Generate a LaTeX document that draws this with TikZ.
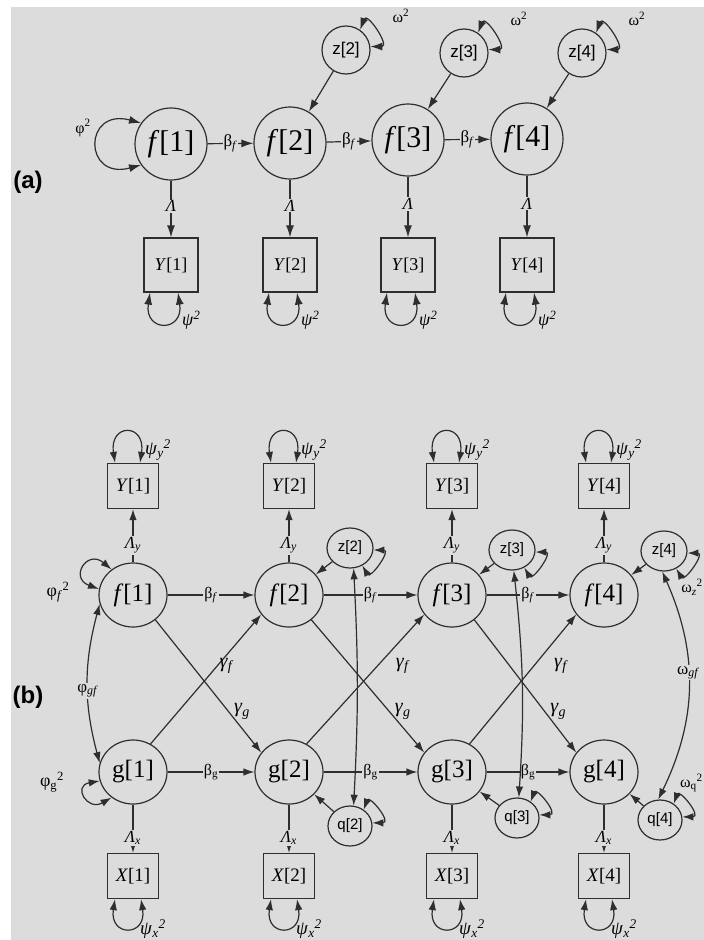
\documentclass[tikz,border=0pt]{standalone}
\usepackage{fontspec}
\setmainfont{Liberation Serif}
\newfontfamily\sansf{Liberation Sans}
\usepackage{xcolor}
\usepackage{tikz}
\usetikzlibrary{positioning}
\usetikzlibrary{arrows.meta,shapes.geometric}
\usetikzlibrary{calc}
\definecolor{bg}{HTML}{DCDCDC}
\definecolor{ln}{HTML}{2E2E2E}
\newcommand{\fsz}[1]{\fontsize{#1}{#1}\selectfont}
\tikzset{lat/.style={circle,draw=ln,line width=1.2pt,inner sep=0pt},
  latb/.style={ellipse,draw=ln,line width=1.2pt,inner sep=0pt,minimum width=68pt,minimum height=64pt,font=\fsz{25}},
  obs/.style={rectangle,draw=ln,line width=1.2pt,inner sep=0pt},
  res/.style={ellipse,draw=ln,line width=1.2pt,inner sep=0pt,minimum width=46pt,minimum height=40pt,font=\sansf\fsz{15}},
  lbl/.style={fill=bg,inner sep=1pt,font=\fsz{16}},
  txt/.style={inner sep=0pt,font=\fsz{15}},
  ar/.style={draw=ln,line width=1.2pt,-{Latex[length=11pt,width=7.5pt]}},
  dar/.style={draw=ln,line width=1.2pt,{Latex[length=11pt,width=7.5pt]}-{Latex[length=11pt,width=7.5pt]}},
  ara/.style={draw=ln,line width=1.2pt,-{Latex[length=12pt,width=8pt]}},
  dara/.style={draw=ln,line width=1.2pt,{Latex[length=12pt,width=8pt]}-{Latex[length=12pt,width=8pt]}}}

\begin{document}
\begin{tikzpicture}[x=1pt,y=1pt]
  \useasboundingbox (0,0) rectangle (704,-940);
  \clip (0,0) rectangle (704,-940);
  \fill[white] (0,0) rectangle (704,-940);
  \fill[bg] (11,-7) rectangle (704,-940);

  % panel (a)
  \node[font=\sansf\bfseries\fsz{24}] (pa) at (28,-182) {(a)};
  \foreach \i/\x/\y in {1/171/144,2/290/143,3/408/140,4/527/139} {
    \node[lat,minimum size=72pt,font=\fsz{30}] (af\i) at (\x,-\y) {\textit{f}[\i]};
    \node[obs,minimum size=54pt,font=\fsz{18}] (aY\i) at (\x,-265) {\textit{Y}[\i]};
    \draw[ara] (af\i) -- node[lbl,pos=0.45,font=\fsz{17}]{\textit{Λ}} (aY\i);
    \draw[dara] ([xshift=-21pt]aY\i.south) .. controls +(-6,-40) and +(6,-40) .. ([xshift=7pt]aY\i.south);
    \node[txt,anchor=west,font=\fsz{18}] (apsi\i) at ($(aY\i.south)+(11,-28)$) {\textit{ψ}\textsuperscript{\textit{2}}};
  }
  \foreach \i/\x/\y in {2/346/50,3/464/53,4/582/53} {
    \node[lat,minimum size=48pt,font=\sansf\fsz{17}] (az\i) at (\x,-\y) {z[\i]};
    \draw[ara] (az\i) -- (af\i);
    \draw[dara] (az\i.55) .. controls +(70:20) and +(0:20) .. (az\i.8);
    \node[txt,font=\fsz{16}] (aom\i) at ($(az\i)+(55,34)$) {ω\textsuperscript{2}};
  }
  \foreach \i/\j in {1/2,2/3,3/4}
    \draw[ara] (af\i) -- node[lbl,font=\fsz{17}]{β\textsubscript{\textit{f}}} (af\j);
  \draw[dara] (af1.145) .. controls +(165:60) and +(195:60) .. (af1.215);
  \node[txt,font=\fsz{16}] (aphi) at (83,-128) {φ\textsuperscript{2}};

  % panel (b)
  \node[font=\sansf\bfseries\fsz{24}] (pb) at (28,-697) {(b)};
  \foreach \i/\x in {1/133,2/289,3/452,4/604} {
    \node[latb] (f\i) at (\x,-595) {\textit{f}[\i]};
    \node[latb] (g\i) at (\x,-772) {g[\i]};
    \node[obs,minimum width=51pt,minimum height=45pt,font=\fsz{19}] (Y\i) at (\x,-486) {\textit{Y}[\i]};
    \node[obs,minimum width=51pt,minimum height=45pt,font=\fsz{19}] (X\i) at (\x,-876) {\textit{X}[\i]};
    \draw[ar] (f\i) -- node[lbl,pos=0.32,font=\fsz{17}]{\textit{Λ}\textsubscript{\textit{y}}} (Y\i);
    \draw[ar] (g\i) -- node[lbl,pos=0.69,font=\fsz{17}]{\textit{Λ}\textsubscript{\textit{x}}} (X\i);
    \draw[dar] ([xshift=-18pt]Y\i.north) .. controls +(-6,40) and +(6,40) .. ([xshift=7pt]Y\i.north);
    \draw[dar] ([xshift=-18pt]X\i.south) .. controls +(-6,-38) and +(6,-38) .. ([xshift=8pt]X\i.south);
    \node[txt,anchor=west,font=\fsz{19}] (psy\i) at ($(Y\i.north)+(12,13)$) {\textit{ψ}\textsubscript{\textit{y}}\textsuperscript{\textit{2}}};
    \node[txt,anchor=west,font=\fsz{19}] (psx\i) at ($(X\i.south)+(7,-30)$) {\textit{ψ}\textsubscript{\textit{x}}\textsuperscript{\textit{2}}};
  }
  \foreach \i/\j in {1/2,2/3,3/4} {
    \draw[ar] (f\i) -- node[lbl]{β\textsubscript{\textit{f}}} (f\j);
    \draw[ar] (g\i) -- node[lbl]{β\textsubscript{g}} (g\j);
  }
  \foreach \i/\j/\dx in {1/2/2,2/3/18,3/4/20} {
    \draw[ar] (f\i.-48) -- node[txt,pos=0.69,anchor=west,xshift=5pt,font=\fsz{20}]{\textit{γ}\textsubscript{\textit{g}}} (g\j.145);
    \draw[ar] (g\i.58) -- node[txt,pos=0.6,anchor=west,xshift=\dx pt,font=\fsz{20}]{\textit{γ}\textsubscript{\textit{f}}} (f\j.215);
  }
  \foreach \i/\x/\y/\v/\u in {2/350/548/350/826,3/512/550/517/818,4/664/551/660/820} {
    \node[res] (z\i) at (\x,-\y) {z[\i]};
    \node[res,minimum width=44pt] (q\i) at (\v,-\u) {q[\i]};
    \draw[ar] (z\i) -- (f\i);
    \draw[ar] (q\i) -- (g\i);
    \draw[dar] (z\i.-5) .. controls +(0:18) and +(-60:16) .. (z\i.-55);
    \draw[dar] (q\i.50) .. controls +(70:16) and +(0:20) .. (q\i.8);
  }
  \draw[dar] (z2.-80) to[bend left=3] (q2.80);
  \draw[dar] (z3.-85) to[bend left=5] (q3.85);
  \draw[dar] (z4.-95) to[bend left=25] node[lbl,pos=0.44,font=\fsz{17}]{ω\textsubscript{\textit{gf}}} (q4.95);
  \node[txt,anchor=east,font=\fsz{16}] (omz) at (703,-587) {ω\textsubscript{\textit{z}}\textsuperscript{2}};
  \node[txt,anchor=east,font=\fsz{16}] (omq) at (703,-783) {ω\textsubscript{q}\textsuperscript{2}};
  \draw[dar] (f1.130) .. controls +(140:32) and +(160:32) .. (f1.170);
  \node[txt,font=\fsz{18}] (phf) at (58,-592) {φ\textsubscript{\textit{f}}\textsuperscript{2}};
  \draw[dar] (g1.195) .. controls +(190:28) and +(210:28) .. (g1.230);
  \node[txt,font=\fsz{18}] (phg) at (52,-782) {φ\textsubscript{g}\textsuperscript{2}};
  \draw[dar] (f1.195) to[bend right=15] node[lbl,pos=0.55,font=\fsz{17}]{φ\textsubscript{\textit{gf}}} (g1.165);
\end{tikzpicture}
\end{document}
